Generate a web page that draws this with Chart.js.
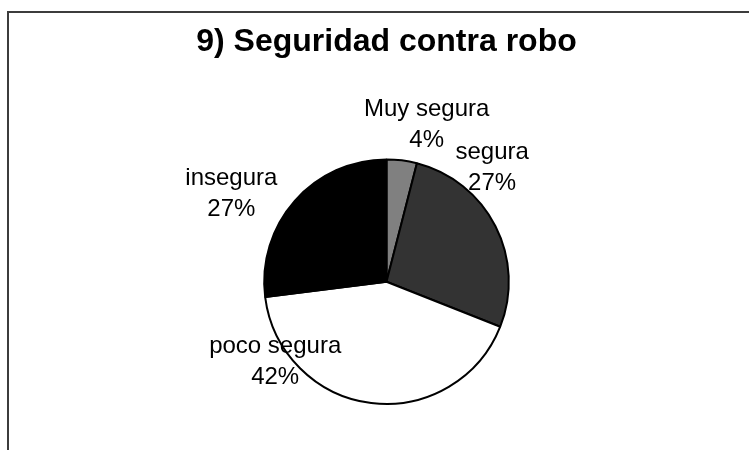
<!DOCTYPE html>
<html>
<head>
<meta charset="utf-8">
<script src="https://cdn.jsdelivr.net/npm/chart.js@4.4.1/dist/chart.umd.min.js"></script>
<style>
  html, body { margin: 0; padding: 0; background: #fff; }
  canvas { display: block; }
</style>
</head>
<body>
<canvas id="myChart" width="749" height="450"></canvas>
<script>
// categories and values (percent of answers)
const categories = ['Muy segura', 'segura', 'poco segura', 'insegura'];
const values = [4, 27, 42, 27];
const sliceColors = ['#808080', '#333333', '#ffffff', '#000000'];

// where each label sits, relative to its slice (angle shift in degrees, distance in radii)
const labelShift = [7.8, -18.4, 44.8, -13.9];
const labelDist = [1.27, 1.23, 1.155, 1.43];

const frame = {
    id: 'frame',
    beforeDraw(chart) {
        const ctx = chart.ctx;
        ctx.save();
        ctx.strokeStyle = '#3c3c3c';
        ctx.lineWidth = 2;
        ctx.beginPath();
        ctx.moveTo(8, chart.height);
        ctx.lineTo(8, 12);
        ctx.lineTo(chart.width, 12);
        ctx.stroke();
        ctx.restore();
    }
};

const outsideLabels = {
    id: 'outsideLabels',
    afterDatasetsDraw(chart) {
        const ctx = chart.ctx;
        const meta = chart.getDatasetMeta(0);
        const data = chart.data.datasets[0].data;
        const total = data.reduce((a, b) => a + b, 0);
        ctx.save();
        ctx.font = '24px "Liberation Sans", Arial, sans-serif';
        ctx.fillStyle = '#000';
        ctx.textAlign = 'center';
        ctx.textBaseline = 'alphabetic';
        meta.data.forEach((arc, i) => {
            const p = arc.getProps(['x', 'y', 'startAngle', 'endAngle', 'outerRadius'], true);
            const a = (p.startAngle + p.endAngle) / 2 + labelShift[i] * Math.PI / 180;
            const r = p.outerRadius * labelDist[i];
            const x = p.x + Math.cos(a) * r;
            const y = p.y + Math.sin(a) * r;
            const pct = Math.round(data[i] / total * 100) + '%';
            ctx.fillText(chart.data.labels[i], x, y - 15.5);
            ctx.fillText(pct, x, y + 15.5);
        });
        ctx.restore();
    }
};

new Chart('myChart', {
    type: 'pie',
    data: {
        labels: categories,
        datasets: [{
            data: values,
            backgroundColor: sliceColors,
            borderColor: '#000',
            borderWidth: 2,
        }],
    },
    options: {
        responsive: false,
        animation: false,
        layout: { padding: { left: 24, right: 0, top: 0, bottom: 45 } },
        plugins: {
            legend: { display: false },
            tooltip: { enabled: false },
            title: {
                display: true,
                text: '9) Seguridad contra robo',
                color: '#000',
                font: { family: '"Liberation Sans", Arial, sans-serif', size: 32, weight: 'bold', lineHeight: 1.2 },
                padding: { top: 23, bottom: 97 },
            },
        },
    },
    plugins: [frame, outsideLabels],
});
</script>
</body>
</html>
